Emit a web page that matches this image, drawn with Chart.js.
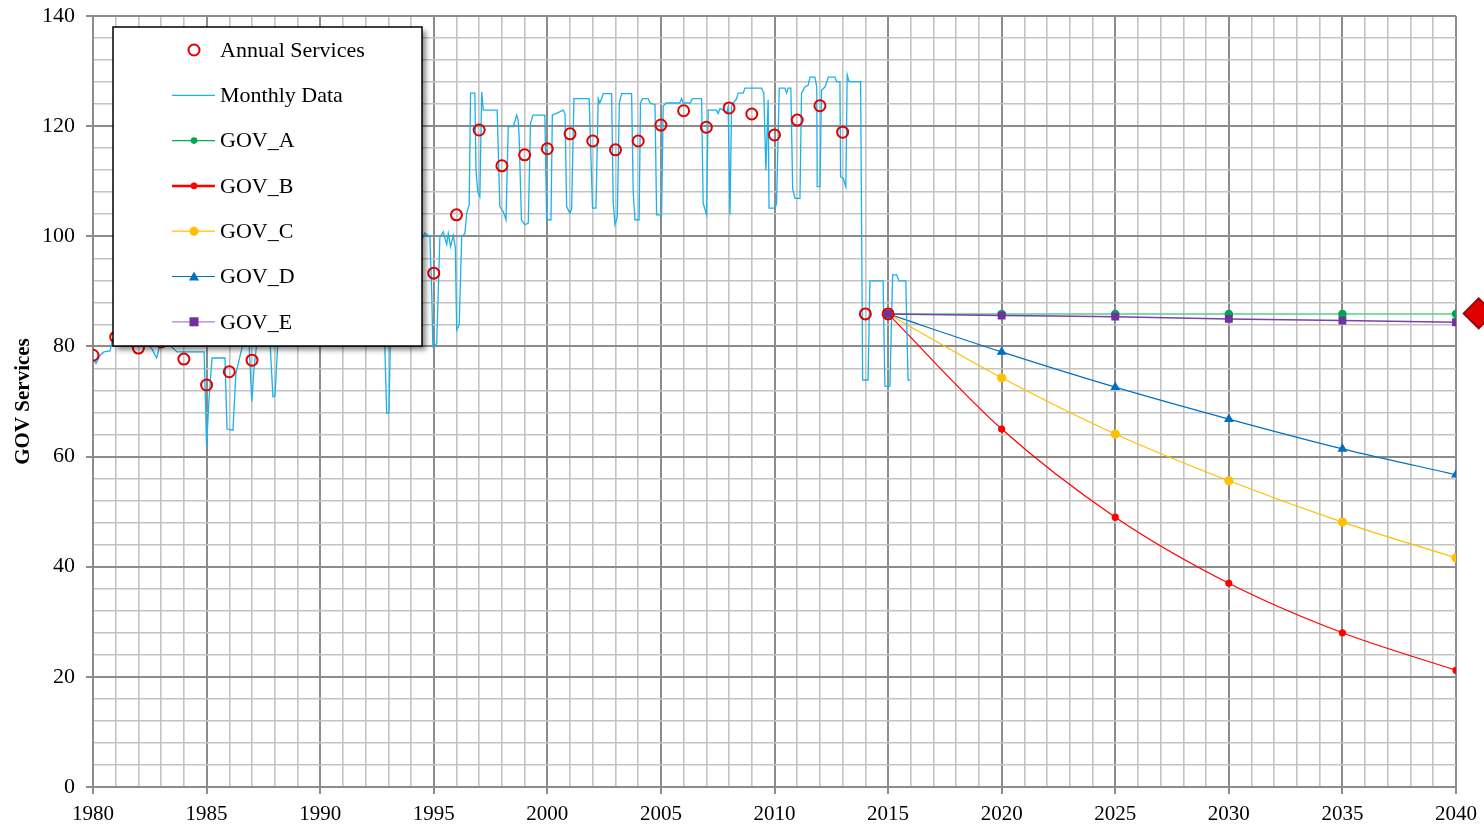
<!DOCTYPE html>
<html>
<head>
<meta charset="utf-8">
<script src="https://cdn.jsdelivr.net/npm/chart.js@4.4.1/dist/chart.umd.min.js"></script>
<style>
  body { margin: 0; background: #fff; }
  #myChart { display: block; }
</style>
</head>
<body>
<canvas id="myChart" width="1484" height="827"></canvas>
<script>
// annual points
const annualYears = [1980,1981,1982,1983,1984,1985,1986,1987,1988,1989,1990,1991,1992,1993,1994,1995,1996,1997,1998,1999,2000,2001,2002,2003,2004,2005,2006,2007,2008,2009,2010,2011,2012,2013,2014,2015];
const annualValues = [78.4,81.7,79.7,80.8,77.7,73.0,75.4,77.5,83,85,86,87,88,89,91,93.3,103.9,119.3,112.8,114.8,115.9,118.6,117.3,115.7,117.3,120.2,122.8,119.8,123.3,122.2,118.4,121.1,123.7,118.9,85.9,85.9];

// monthly series (decimal years)
const monthlyX = [1980.00,1980.13,1980.31,1980.48,1980.75,1980.88,1981.2,1981.6,1982.0,1982.38,1982.6,1982.80,1982.95,1983.17,1983.70,1984.89,1984.95,1985.00,1985.10,1985.24,1985.81,1985.90,1986.16,1986.29,1986.60,1986.87,1986.99,1987.09,1987.22,1987.79,1987.92,1988.01,1988.14,1989.0,1990.0,1991.0,1992.0,1992.70,1992.81,1992.93,1993.03,1993.12,1994.0,1994.61,1994.83,1994.91,1994.96,1995.13,1995.27,1995.42,1995.57,1995.64,1995.74,1995.86,1995.95,1996.01,1996.12,1996.23,1996.37,1996.45,1996.56,1996.62,1996.81,1996.86,1996.94,1997.03,1997.11,1997.18,1997.79,1997.91,1998.06,1998.18,1998.28,1998.50,1998.65,1998.72,1998.76,1998.86,1999.01,1999.16,1999.26,1999.37,1999.89,1999.97,2000.16,2000.22,2000.70,2000.78,2000.85,2000.99,2001.07,2001.17,2001.84,2001.99,2002.14,2002.24,2002.31,2002.39,2002.46,2002.83,2002.90,2002.98,2003.08,2003.17,2003.27,2003.71,2003.78,2003.86,2004.04,2004.10,2004.19,2004.44,2004.52,2004.74,2004.81,2005.03,2005.10,2005.22,2005.83,2005.91,2005.98,2006.28,2006.39,2006.79,2006.86,2007.01,2007.08,2007.45,2007.52,2007.60,2007.74,2007.89,2007.96,2008.04,2008.11,2008.18,2008.33,2008.40,2008.62,2008.70,2009.43,2009.53,2009.62,2009.72,2009.76,2010.01,2010.09,2010.21,2010.46,2010.53,2010.60,2010.72,2010.80,2010.90,2011.12,2011.19,2011.34,2011.48,2011.56,2011.78,2011.86,2011.88,2012.00,2012.07,2012.22,2012.37,2012.66,2012.73,2012.88,2012.91,2013.03,2013.14,2013.20,2013.28,2013.79,2013.88,2014.12,2014.20,2014.78,2014.86,2015.08,2015.20,2015.38,2015.48,2015.78,2015.88,2015.96];
const monthlyY = [77.9,76.9,78.4,79.0,79.2,81.5,83,84,82,80.5,79.5,77.9,80.3,81,79.0,79.0,70,61.8,70,77.9,77.9,65,64.8,75,80.5,80.5,70.0,76,81,81,70.9,71,81,84,86,87,89,90,85,67.9,67.9,88,95,100.6,99.9,90,80.0,80.5,99.9,100.8,98.5,100.5,98.1,100.2,98,83.0,83.9,99.9,100.5,104.2,105.7,126.0,126.0,112,108,107.2,126.2,122.9,122.9,105.4,104.5,103.0,119.9,119.9,122.0,121,118,103.0,102.1,102.4,120.5,122.0,122.0,103.0,103.0,122.0,122.9,122.2,105.4,104.2,105,125.0,125.0,105.1,105.1,125.0,124.2,125.0,125.9,125.9,106,102.1,103.5,124.2,125.9,125.9,108,103.0,103.0,124.2,125.0,125.0,124.2,123.9,103.9,103.9,123.6,124.2,124.2,125,124.2,124.2,125.0,125.0,106,103.9,122.9,122.9,122.3,123.2,122.9,122.3,123.5,103.9,123.6,124.2,125.0,126.0,126.0,126.9,126.9,126.0,112.0,124.8,105.1,105.1,105.9,126.9,126.9,126.0,126.9,126.9,108.6,106.9,106.9,126.0,127.1,127.4,128.9,128.9,127.1,109.0,109.0,126.5,127.1,128.9,128.9,128.1,128.1,110.8,110.5,109.0,129.3,128.1,128.1,73.9,73.9,91.9,91.9,72.8,72.8,93.0,93.0,91.9,91.9,73.9,73.9];

// projections
const projYears = [2015, 2020, 2025, 2030, 2035, 2040];
const govA = [85.9, 85.9, 85.9, 85.9, 85.9, 85.9];
const govB = [85.9, 65.0, 49.0, 37.0, 28.0, 21.2];
const govC = [85.9, 74.3, 64.1, 55.6, 48.1, 41.6];
const govD = [85.9, 79.0, 72.6, 66.8, 61.4, 56.7];
const govE = [85.9, 85.6, 85.4, 85.0, 84.7, 84.4];

// target marker just past the right edge
const targetX = [2041.0];
const targetY = [86];

function pts(xs, ys) { return xs.map((x, i) => ({x: x, y: ys[i]})); }

const FONT = "'Liberation Serif', 'Times New Roman', serif";

var data = {
  datasets: [{
    label: 'Annual Services',
    data: pts(annualYears, annualValues),
    order: -2,
    showLine: false,
    pointRadius: 5.5,
    pointBorderWidth: 2,
    pointBorderColor: '#e00000',
    pointBackgroundColor: 'rgba(0,0,0,0)',
  }, {
    label: 'Monthly Data',
    data: pts(monthlyX, monthlyY),
    borderColor: '#19b2ec',
    borderWidth: 1.3,
    pointRadius: 0,
  }, {
    label: 'GOV_A',
    data: pts(projYears, govA),
    borderColor: '#55d08c',
    borderWidth: 1.5,
    pointRadius: 3.5,
    pointBackgroundColor: '#00a550',
    pointBorderColor: '#00a550',
    cubicInterpolationMode: 'monotone',
  }, {
    label: 'GOV_B',
    data: pts(projYears, govB),
    borderColor: '#ff0000',
    borderWidth: 1.2,
    pointRadius: 3,
    pointBackgroundColor: '#ff0000',
    pointBorderColor: '#ff0000',
    cubicInterpolationMode: 'monotone',
  }, {
    label: 'GOV_C',
    data: pts(projYears, govC),
    borderColor: '#ffc000',
    borderWidth: 1.2,
    pointRadius: 4,
    pointBackgroundColor: '#ffc000',
    pointBorderColor: '#ffc000',
    cubicInterpolationMode: 'monotone',
  }, {
    label: 'GOV_D',
    data: pts(projYears, govD),
    borderColor: '#0070c0',
    borderWidth: 1.2,
    pointStyle: 'triangle',
    pointRadius: 4.5,
    pointBackgroundColor: '#0070c0',
    pointBorderColor: '#0070c0',
    cubicInterpolationMode: 'monotone',
  }, {
    label: 'GOV_E',
    data: pts(projYears, govE),
    order: -1,
    borderColor: '#7a3fb0',
    borderWidth: 1.5,
    pointStyle: 'rect',
    pointRadius: 4.5,
    pointBackgroundColor: '#7030a0',
    pointBorderColor: '#7030a0',
    cubicInterpolationMode: 'monotone',
  }],
};

// red diamond sitting outside the plot on the right
var targetMark = {
  id: 'targetMark',
  afterDatasetsDraw: function(chart) {
    const ctx = chart.ctx;
    const xs = chart.scales.x, ys = chart.scales.y;
    ctx.save();
    targetX.forEach(function(v, i) {
      const px = xs.getPixelForValue(v);
      const py = ys.getPixelForValue(targetY[i]);
      const r = 15;
      ctx.beginPath();
      ctx.moveTo(px, py - r);
      ctx.lineTo(px + r, py);
      ctx.lineTo(px, py + r);
      ctx.lineTo(px - r, py);
      ctx.closePath();
      ctx.fillStyle = '#e00000';
      ctx.fill();
      ctx.lineWidth = 2;
      ctx.strokeStyle = '#a00000';
      ctx.stroke();
    });
    ctx.restore();
  }
};

// legend box drawn inside the plot, like the original
const legendItems = [
  {text: 'Annual Services', line: null, marker: 'ring', color: '#e00000'},
  {text: 'Monthly Data', line: '#19b2ec', marker: null},
  {text: 'GOV_A', line: '#00b050', marker: 'circle', color: '#00a550'},
  {text: 'GOV_B', line: '#ff0000', lw: 2.5, marker: 'circle', color: '#ff0000'},
  {text: 'GOV_C', line: '#ffc000', marker: 'circle', color: '#ffc000', r: 4.5},
  {text: 'GOV_D', line: '#0070c0', marker: 'triangle', color: '#0070c0'},
  {text: 'GOV_E', line: '#a883cf', marker: 'rect', color: '#7030a0'},
];

var boxLegend = {
  id: 'boxLegend',
  afterDraw: function(chart) {
    const ctx = chart.ctx;
    const a = chart.chartArea;
    const x0 = a.left + 20, y0 = a.top + 11, w = 309, h = 319;
    ctx.save();
    ctx.shadowColor = 'rgba(0,0,0,0.45)';
    ctx.shadowBlur = 5;
    ctx.shadowOffsetX = 4;
    ctx.shadowOffsetY = 4;
    ctx.fillStyle = '#fff';
    ctx.fillRect(x0, y0, w, h);
    ctx.restore();
    ctx.save();
    ctx.strokeStyle = '#000';
    ctx.lineWidth = 1.5;
    ctx.strokeRect(x0, y0, w, h);
    ctx.font = '22px ' + FONT;
    ctx.textBaseline = 'middle';
    ctx.fillStyle = '#000';
    legendItems.forEach(function(it, i) {
      const cy = y0 + 23 + i * 45.3;
      const mx = x0 + 81;
      if (it.line) {
        ctx.strokeStyle = it.line;
        ctx.lineWidth = it.lw || 1.2;
        ctx.beginPath();
        ctx.moveTo(x0 + 59, cy);
        ctx.lineTo(x0 + 102, cy);
        ctx.stroke();
      }
      ctx.fillStyle = it.color || '#000';
      ctx.strokeStyle = it.color || '#000';
      if (it.marker === 'ring') {
        ctx.lineWidth = 2;
        ctx.beginPath();
        ctx.arc(mx, cy, 5.5, 0, Math.PI * 2);
        ctx.stroke();
      } else if (it.marker === 'circle') {
        ctx.beginPath();
        ctx.arc(mx, cy, it.r || 3.3, 0, Math.PI * 2);
        ctx.fill();
      } else if (it.marker === 'triangle') {
        ctx.beginPath();
        ctx.moveTo(mx, cy - 5);
        ctx.lineTo(mx + 5, cy + 4);
        ctx.lineTo(mx - 5, cy + 4);
        ctx.closePath();
        ctx.fill();
      } else if (it.marker === 'rect') {
        ctx.fillRect(mx - 4.5, cy - 4.5, 9, 9);
      }
      ctx.fillStyle = '#000';
      ctx.fillText(it.text, x0 + 107, cy + 1);
    });
    ctx.restore();
  }
};

var option = {
  responsive: false,
  animation: false,
  layout: { padding: { top: 16, right: 28, left: 0, bottom: 0 } },
  plugins: { legend: { display: false }, tooltip: { enabled: false } },
  elements: { line: { tension: 0 } },
  scales: {
    x: {
      type: 'linear',
      min: 1980,
      max: 2040,
      afterFit: function(s) { s.height = 40; s.paddingLeft = 0; s.paddingRight = 0; },
      ticks: {
        stepSize: 1,
        autoSkip: false,
        maxRotation: 0,
        color: '#000',
        padding: 8,
        font: { family: FONT, size: 21 },
        callback: function(v) { return v % 5 === 0 ? String(v) : ''; },
      },
      grid: {
        color: function(c) { return c.tick && c.tick.value % 5 === 0 ? '#8c8c8c' : '#c3c3c3'; },
        lineWidth: function(c) { return c.tick && c.tick.value % 5 === 0 ? 2 : 1.6; },
        tickColor: function(c) { return c.tick && c.tick.value % 5 === 0 ? '#8c8c8c' : 'rgba(0,0,0,0)'; },
        tickLength: 7,
      },
      border: { color: '#8c8c8c', width: 2 },
    },
    y: {
      min: 0,
      max: 140,
      afterFit: function(s) { s.width = 93; s.paddingTop = 0; s.paddingBottom = 0; },
      ticks: {
        stepSize: 4,
        autoSkip: false,
        color: '#000',
        padding: 11,
        font: { family: FONT, size: 22 },
        callback: function(v) { return v % 20 === 0 ? String(v) : ''; },
      },
      grid: {
        color: function(c) { return c.tick && c.tick.value % 20 === 0 ? '#8c8c8c' : '#c3c3c3'; },
        lineWidth: function(c) { return c.tick && c.tick.value % 20 === 0 ? 2 : 1.6; },
        tickColor: function(c) { return c.tick && c.tick.value % 20 === 0 ? '#8c8c8c' : 'rgba(0,0,0,0)'; },
        tickLength: 7,
      },
      border: { color: '#8c8c8c', width: 2 },
      title: {
        display: true,
        text: 'GOV Services',
        color: '#000',
        padding: { top: 11, bottom: 0 },
        font: { family: FONT, size: 21, weight: 'bold' },
      },
    },
  },
};

var canvas = document.getElementById('myChart').getContext('2d');
var myChart = new Chart(canvas, { type: 'line', data: data, options: option, plugins: [targetMark, boxLegend] });
</script>
</body>
</html>
